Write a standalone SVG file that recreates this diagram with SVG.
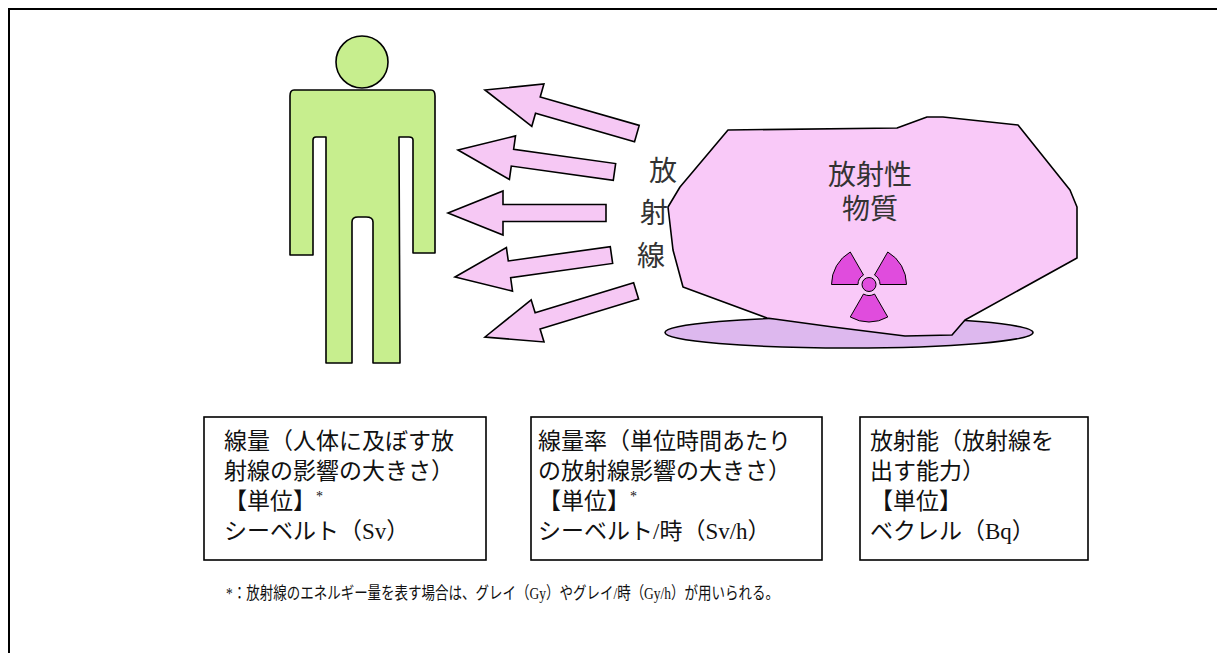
<svg xmlns="http://www.w3.org/2000/svg" width="1217" height="653" viewBox="0 0 1217 653">
  <style>
    .frame { fill: none; stroke: #000; stroke-width: 2; }
    .person { fill: #C7EE8E; stroke: #000; stroke-width: 1.6; stroke-linejoin: round; }
    .ray { fill: #F6C8F4; stroke: #000; stroke-width: 1.6; stroke-linejoin: miter; }
    .rock { fill: #F9C9F8; stroke: #000; stroke-width: 1.6; stroke-linejoin: round; }
    .shadow { fill: #DDB8EE; stroke: #000; stroke-width: 1.6; }
    .trefoil { fill: #E04CDD; stroke: #000; stroke-width: 1; }
    .gothic { font-family: "Noto Sans CJK JP", "Liberation Sans", sans-serif; fill: #333; }
    .box { fill: #fff; stroke: #000; stroke-width: 1.6; }
    .label { font-family: "Liberation Serif", "Noto Sans CJK JP", serif; font-size: 23px; fill: #111; }
    .note { font-family: "Liberation Serif", "Noto Sans CJK JP", serif; font-size: 17px; fill: #111; }
  </style>
  <defs>
    <!-- left-pointing block arrow, tip at the origin -->
    <path id="ray-arrow" d="M0,0 L55,-22 L55,-8.5 L158,-8.5 L158,8.5 L55,8.5 L55,22 Z"/>
  </defs>

  <!-- outer frame (runs off the right and bottom edges) -->
  <rect class="frame" x="9" y="9" width="1230" height="680"/>

  <!-- human figure -->
  <g id="person">
    <circle class="person" cx="362" cy="62" r="26"/>
    <path class="person" d="M294,90 L431,90 Q435,90 435,96 L435,253 L413,253 L413,140 Q413,137 409,137 L399,137 L400,363 L373,363 L373,222 Q373,217 366,217 L358,217 Q352,217 352,222 L352,363 L326,363 L326,137 L316,137 Q313,137 313,140 L313,255 L290,255 L290,96 Q290,90 294,90 Z"/>
  </g>

  <!-- radiation arrows -->
  <g id="connectors">
    <use href="#ray-arrow" class="ray" transform="translate(485,90) rotate(16)"/>
    <use href="#ray-arrow" class="ray" transform="translate(458,150) rotate(8)"/>
    <use href="#ray-arrow" class="ray" transform="translate(448,213)"/>
    <use href="#ray-arrow" class="ray" transform="translate(455,277) rotate(-8)"/>
    <use href="#ray-arrow" class="ray" transform="translate(485,337) rotate(-17)"/>
  </g>

  <!-- vertical label for the rays -->
  <g id="ray-label" class="gothic" font-size="28" text-anchor="middle">
    <text x="663" y="181">放</text>
    <text x="654" y="223">射</text>
    <text x="651" y="266">線</text>
  </g>

  <!-- radioactive material -->
  <g id="material">
    <ellipse class="shadow" cx="849" cy="332.5" rx="184" ry="15.5"/>
    <path class="rock" d="M728,130 L897,128 L927,117 L943,117 L1018,125 L1070,190 L1077,207 L1077,258 L1068,263 L965,320 L952,335 L905,336 L833,327 L767,318 L683,287 L673,250 L668,207 L680,187 Z"/>
    <text class="gothic" x="870" y="185" font-size="28" text-anchor="middle">放射性</text>
    <text class="gothic" x="870" y="219" font-size="28" text-anchor="middle">物質</text>
    <g id="trefoil">
      <path class="trefoil" d="M874.5,294 L887.75,317 A37.5,37.5 0 0 1 850.25,317 L863.5,294 A11,11 0 0 0 874.5,294 Z"/>
      <path class="trefoil" d="M858,284.5 L831.5,284.5 A37.5,37.5 0 0 1 850.25,252 L863.5,275 A11,11 0 0 0 858,284.5 Z"/>
      <path class="trefoil" d="M874.5,275 L887.75,252 A37.5,37.5 0 0 1 906.5,284.5 L880,284.5 A11,11 0 0 0 874.5,275 Z"/>
      <circle class="trefoil" cx="869" cy="284.5" r="7"/>
    </g>
  </g>

  <!-- unit boxes -->
  <g id="dose">
    <rect class="box" x="204" y="417" width="282" height="143"/>
    <text class="label" x="224" y="449">線量（人体に及ぼす放</text>
    <text class="label" x="224" y="479">射線の影響の大きさ）</text>
    <text class="label" x="224" y="509">【単位】<tspan font-size="14" dy="-8">*</tspan></text>
    <text class="label" x="224" y="539">シーベルト（Sv）</text>
  </g>
  <g id="dose-rate">
    <rect class="box" x="531" y="417" width="291" height="143"/>
    <text class="label" x="538" y="449">線量率（単位時間あたり</text>
    <text class="label" x="538" y="479">の放射線影響の大きさ）</text>
    <text class="label" x="538" y="509">【単位】<tspan font-size="14" dy="-8">*</tspan></text>
    <text class="label" x="538" y="539">シーベルト/時（Sv/h）</text>
  </g>
  <g id="activity">
    <rect class="box" x="860" y="417" width="228" height="143"/>
    <text class="label" x="870" y="449">放射能（放射線を</text>
    <text class="label" x="870" y="479">出す能力）</text>
    <text class="label" x="870" y="509">【単位】</text>
    <text class="label" x="870" y="539">ベクレル（Bq）</text>
  </g>

  <!-- footnote -->
  <text id="footnote" class="note" x="226" y="599" textLength="553" lengthAdjust="spacingAndGlyphs">*：放射線のエネルギー量を表す場合は、グレイ（Gy）やグレイ/時（Gy/h）が用いられる。</text>
</svg>
